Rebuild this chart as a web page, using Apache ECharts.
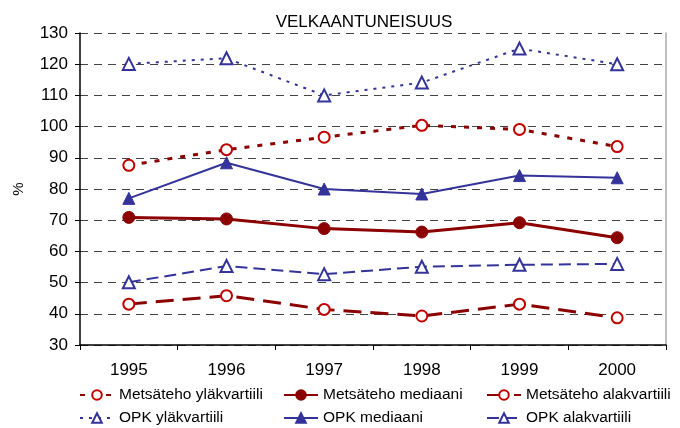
<!DOCTYPE html>
<html>
<head>
<meta charset="utf-8">
<script src="https://cdn.jsdelivr.net/npm/echarts@6/dist/echarts.min.js"></script>
<style>
  html, body { margin: 0; padding: 0; background: #fff; }
  #chart { width: 680px; height: 428px; }
</style>
</head>
<body>
<div id="chart"></div>
<script>
// vuodet ja sarjat
var years = ['1995', '1996', '1997', '1998', '1999', '2000'];
var metsaYla = [87.6, 92.6, 96.6, 100.4, 99.1, 93.6];
var metsaMed = [70.9, 70.4, 67.3, 66.2, 69.2, 64.4];
var metsaAla = [43.1, 45.8, 41.4, 39.3, 43.1, 38.7];
var opkYla = [120.1, 121.9, 110.0, 114.1, 125.0, 120.0];
var opkMed = [77.0, 88.4, 80.0, 78.4, 84.3, 83.6];
var opkAla = [50.1, 55.3, 52.7, 55.1, 55.7, 56.0];

var red = '#8b0000';
var redMark = '#c00000';
var blue = '#333399';
var font = 'Liberation Sans, Arial, sans-serif';

var chart = echarts.init(document.getElementById('chart'));

function legendAt(name, left, top) {
  return {
    data: [name],
    left: left,
    top: top,
    itemWidth: 34,
    itemHeight: 12,
    itemGap: 0,
    padding: 0,
    textStyle: { fontFamily: font, fontSize: 15.5, color: '#000' }
  };
}

function line(name, data, color, mark, width, type, symbol, size) {
  return {
    name: name,
    type: 'line',
    data: data,
    symbol: symbol,
    symbolSize: size,
    showAllSymbol: true,
    lineStyle: { color: color, width: width, type: type },
    itemStyle: { color: mark, borderColor: mark, borderWidth: 1 },
    emphasis: { disabled: true },
    z: 3
  };
}

chart.setOption({
  animation: false,
  title: {
    text: 'VELKAANTUNEISUUS',
    left: 359,
    textAlign: 'center',
    top: 9,
    textStyle: { fontFamily: font, fontSize: 17, fontWeight: 'normal', color: '#000' }
  },
  legend: [
    legendAt('Metsäteho yläkvartiili', 79, 387),
    legendAt('Metsäteho mediaani', 283, 387),
    legendAt('Metsäteho alakvartiili', 486, 387),
    legendAt('OPK yläkvartiili', 79, 410),
    legendAt('OPK mediaani', 283, 410),
    legendAt('OPK alakvartiili', 486, 410)
  ],
  grid: { left: 80, right: 14, top: 33, bottom: 83, outerBoundsMode: 'none', containLabel: false },
  xAxis: {
    type: 'category',
    data: years,
    boundaryGap: true,
    axisLine: { lineStyle: { color: '#000', width: 1.5 } },
    axisTick: { show: true, length: 5, lineStyle: { color: '#000' } },
    axisLabel: { fontFamily: font, fontSize: 17, color: '#000', margin: 17 }
  },
  yAxis: [{
    type: 'value',
    name: '%',
    nameLocation: 'middle',
    nameGap: 54,
    nameRotate: 90,
    nameTextStyle: { fontFamily: font, fontSize: 15, color: '#000' },
    min: 30,
    max: 130,
    interval: 10,
    axisLine: { show: true, lineStyle: { color: '#000', width: 1.5 } },
    axisTick: { show: true, length: 5, lineStyle: { color: '#000' } },
    axisLabel: { fontFamily: font, fontSize: 17, color: '#000', margin: 12 },
    splitLine: { show: true, lineStyle: { color: '#444', width: 1, type: [8, 6] } }
  }, {
    type: 'value',
    position: 'right',
    min: 30,
    max: 130,
    axisLine: { show: true, lineStyle: { color: '#aaa', width: 1.5 } },
    axisTick: { show: false },
    axisLabel: { show: false },
    splitLine: { show: false }
  }],
  series: [
    line('Metsäteho yläkvartiili', metsaYla, red, redMark, 3, [5, 8], 'emptyCircle', 11),
    line('Metsäteho mediaani', metsaMed, red, red, 3, 'solid', 'circle', 12),
    line('Metsäteho alakvartiili', metsaAla, red, redMark, 3, [18, 9], 'emptyCircle', 11),
    line('OPK yläkvartiili', opkYla, blue, blue, 2, [3, 6], 'emptyTriangle', 12),
    line('OPK mediaani', opkMed, blue, blue, 2, 'solid', 'triangle', 12),
    line('OPK alakvartiili', opkAla, blue, blue, 2, [12, 6], 'emptyTriangle', 12)
  ]
});
</script>
</body>
</html>
